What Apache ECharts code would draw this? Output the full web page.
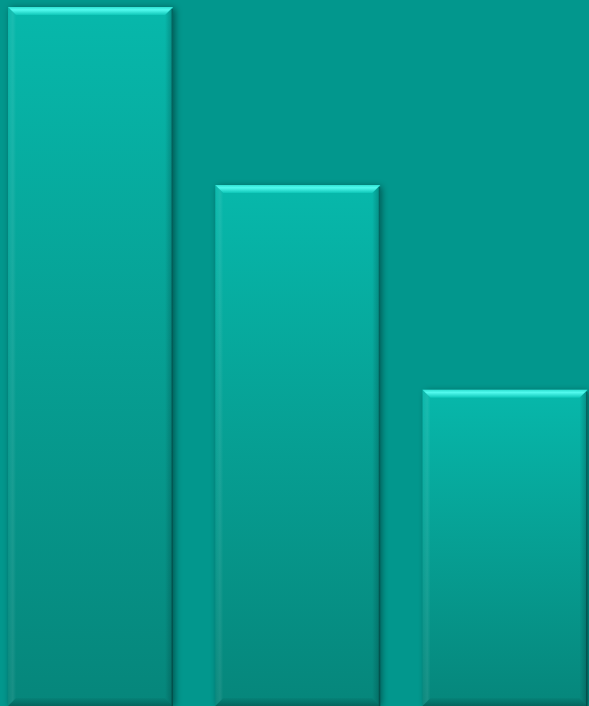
<!DOCTYPE html>
<html>
<head>
<meta charset="utf-8">
<script src="https://cdn.jsdelivr.net/npm/echarts@6/dist/echarts.min.js"></script>
<style>html,body{margin:0;padding:0;background:#02978d;}#c{width:589px;height:706px;}</style>
</head>
<body>
<div id="c"></div>
<script>
var categories = ['A', 'B', 'C'];
var values = [99, 73.8, 44.8];
var yMax = 100;

var chart = echarts.init(document.getElementById('c'), null, {renderer: 'canvas'});

function renderBar(params, api) {
  var idx = api.value(0);
  var top = api.coord([idx, api.value(1)]);
  var bot = api.coord([idx, 0]);
  var w = api.size([1, 0])[0] * 0.796;
  var x0 = top[0] - w / 2, x1 = top[0] + w / 2;
  var y0 = top[1], y1 = bot[1];
  var d = 8;
  var body = new echarts.graphic.LinearGradient(0, 0, 0, 1, [
    {offset: 0, color: '#07b8ab'},
    {offset: 1, color: '#06867b'}
  ]);
  return {
    type: 'group',
    children: [
      {type: 'rect', shape: {x: x0, y: y0, width: w, height: y1 - y0},
       style: {fill: body, shadowColor: 'rgba(0,30,30,0.55)', shadowBlur: 7, shadowOffsetX: 2, shadowOffsetY: 1}},
      {type: 'polygon', shape: {points: [[x0, y0], [x0 + d, y0 + d], [x0 + d, y1 - d], [x0, y1]]},
       style: {fill: new echarts.graphic.LinearGradient(0, 0, 1, 0, [
         {offset: 0, color: 'rgba(255,255,255,0.02)'},
         {offset: 0.6, color: 'rgba(255,255,255,0.08)'},
         {offset: 1, color: 'rgba(255,255,255,0)'}
       ])}},
      {type: 'polygon', shape: {points: [[x1, y0], [x1 - d, y0 + d], [x1 - d, y1 - d], [x1, y1]]},
       style: {fill: new echarts.graphic.LinearGradient(0, 0, 1, 0, [
         {offset: 0, color: 'rgba(0,40,40,0)'},
         {offset: 1, color: 'rgba(0,40,40,0.3)'}
       ])}},
      {type: 'rect', shape: {x: x1 - 1.5, y: y0 + 2, width: 1.5, height: y1 - y0 - 2},
       style: {fill: 'rgba(0,40,40,0.4)'}},
      {type: 'polygon', shape: {points: [[x0, y1], [x0 + d, y1 - d], [x1 - d, y1 - d], [x1, y1]]},
       style: {fill: new echarts.graphic.LinearGradient(0, 0, 0, 1, [
         {offset: 0, color: 'rgba(0,40,40,0.05)'},
         {offset: 1, color: 'rgba(0,40,40,0.35)'}
       ])}},
      {type: 'polygon', shape: {points: [[x0, y0], [x1, y0], [x1 - d, y0 + d], [x0 + d, y0 + d]]},
       style: {fill: new echarts.graphic.LinearGradient(0, 0, 0, 1, [
         {offset: 0, color: '#2ee0d2'},
         {offset: 0.35, color: '#52faee'},
         {offset: 1, color: '#0ec6b8'}
       ])}}
    ]
  };
}

chart.setOption({
  backgroundColor: '#02978d',
  animation: false,
  grid: {left: 0, right: 0, top: 0, bottom: 0},
  xAxis: {type: 'value', min: -0.4367, max: 2.4053, show: false},
  yAxis: {type: 'value', min: 0, max: yMax, show: false},
  series: [{
    type: 'custom',
    name: 'values',
    renderItem: renderBar,
    dimensions: ['index', 'value', 'category'],
    data: values.map(function (v, i) { return [i, v, categories[i]]; }),
    encode: {x: 0, y: 1},
    clip: false
  }]
});
</script>
</body>
</html>
